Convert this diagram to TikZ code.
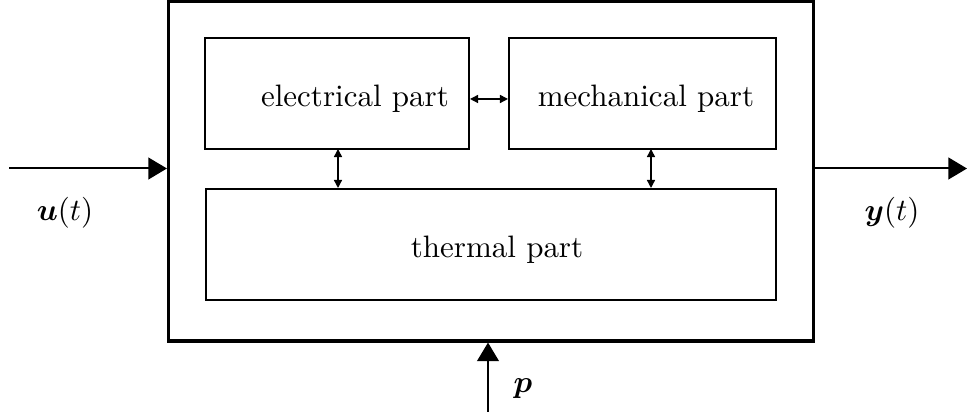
\documentclass[tikz,border=0pt]{standalone}
\usepackage{bm}
\usetikzlibrary{arrows.meta,fit}
\tikzset{
  outerbox/.style={draw, line width=1pt, inner sep=0pt},
  partbox/.style={draw, line width=0.65pt, inner sep=0pt},
  bigarrow/.style={line width=0.65pt, -{Triangle[length=6pt,width=7pt]}},
  linkarrow/.style={line width=0.45pt, {Triangle[length=2.6pt,width=2.6pt]}-{Triangle[length=2.6pt,width=2.6pt]}},
  txt/.style={font=\normalsize, inner sep=1pt}
}
\begin{document}
\begin{tikzpicture}[x=0.3226pt,y=-0.3226pt]
\useasboundingbox (0,0) rectangle (967,419);
% boxes
\node[outerbox, fit={(168.5,1.5) (813.5,341)}] (outer) {};
\node[partbox, fit={(205,38.5) (469,149)}] (el) {};
\node[partbox, fit={(509,38.5) (776,149)}] (me) {};
\node[partbox, fit={(206,189) (776,300)}] (th) {};
% texts
\node[txt] (elt) at (355,99) {electrical part};
\node[txt] (met) at (646,99) {mechanical part};
\node[txt] (tht) at (497,250) {thermal part};
% internal links
\draw[linkarrow] (el.east |- 0,99) -- (me.west |- 0,99);
\coordinate (a1) at (338,149);
\coordinate (a2) at (651,149);
\draw[linkarrow] (a1) -- (a1 |- th.north);
\draw[linkarrow] (a2) -- (a2 |- th.north);
% inputs / outputs
\coordinate (uin) at (9,168.5);
\coordinate (yout) at (967,168.5);
\coordinate (pin) at (488,412);
\draw[bigarrow] (uin) -- (uin -| outer.west);
\draw[bigarrow] (yout -| outer.east) -- (yout);
\draw[bigarrow] (pin) -- (pin |- outer.south);
% labels
\node[txt] (ul) at (65,213) {$\bm{u}(t)$};
\node[txt] (yl) at (892,213) {$\bm{y}(t)$};
\node[txt] (pl) at (523,389) {$\bm{p}$};
\end{tikzpicture}
\end{document}
